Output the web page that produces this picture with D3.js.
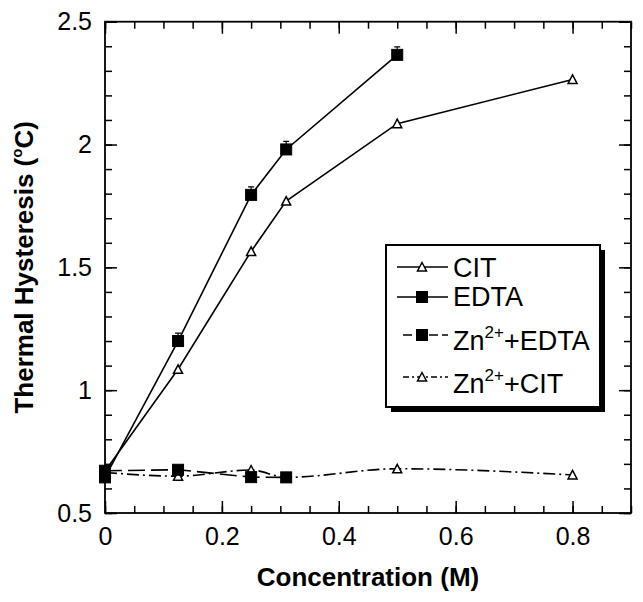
<!DOCTYPE html>
<html><head><meta charset="utf-8">
<script src="https://cdn.jsdelivr.net/npm/d3@7"></script>
<style>body{margin:0;background:#fff}svg{display:block}</style>
</head><body>
<svg id="c" width="643" height="602"></svg>
<script>
// ---- data ----
const citX = [0, 0.125, 0.25, 0.31, 0.5, 0.8];
const citY = [0.67, 1.085, 1.565, 1.77, 2.085, 2.265];
const edtaX = [0, 0.125, 0.25, 0.31, 0.5];
const edtaY = [0.645, 1.2, 1.795, 1.98, 2.365];
const znEdtaX = [0, 0.125, 0.25, 0.31];
const znEdtaY = [0.672, 0.676, 0.646, 0.645];
const znCitX = [0, 0.125, 0.25, 0.31, 0.5, 0.8];
const znCitY = [0.665, 0.65, 0.675, 0.645, 0.68, 0.655];
const xTickLabels = [0, 0.2, 0.4, 0.6, 0.8];
const yTickLabels = [0.5, 1, 1.5, 2, 2.5];

const FONT = "'Liberation Sans', Arial, Helvetica, sans-serif";
const svg = d3.select("#c");
const L = 105, R = 631, T = 21.7, B = 513;
const x = d3.scaleLinear().domain([0, 0.9]).range([L, R]);
const y = d3.scaleLinear().domain([0.5, 2.5]).range([B, T]);

const xMinor = d3.range(0, 0.9001, 0.05).map(v => +v.toFixed(2));
const yMinor = d3.range(0.5, 2.5001, 0.1).map(v => +v.toFixed(2));
const fmt = v => (v === 0 ? "0" : String(v));

function styleAxis(g) {
  g.select(".domain").remove();
  g.selectAll(".tick line").attr("stroke", "#000").attr("stroke-width", 1.5);
  g.selectAll("text").attr("font-family", FONT).attr("font-size", 25).attr("fill", "#000");
}
// bottom
svg.append("g").attr("transform", `translate(0,${B})`)
  .call(d3.axisBottom(x).tickValues(xMinor).tickSize(-7).tickSizeOuter(0).tickFormat("")).call(styleAxis);
svg.append("g").attr("transform", `translate(0,${B})`)
  .call(d3.axisBottom(x).tickValues(xTickLabels).tickSize(-12).tickSizeOuter(0).tickPadding(14).tickFormat(fmt)).call(styleAxis);
// top
svg.append("g").attr("transform", `translate(0,${T})`)
  .call(d3.axisTop(x).tickValues(xMinor).tickSize(-7).tickSizeOuter(0).tickFormat("")).call(styleAxis);
svg.append("g").attr("transform", `translate(0,${T})`)
  .call(d3.axisTop(x).tickValues(xTickLabels).tickSize(-12).tickSizeOuter(0).tickFormat("")).call(styleAxis);
// left
svg.append("g").attr("transform", `translate(${L},0)`)
  .call(d3.axisLeft(y).tickValues(yMinor).tickSize(-7).tickSizeOuter(0).tickFormat("")).call(styleAxis);
svg.append("g").attr("transform", `translate(${L},0)`)
  .call(d3.axisLeft(y).tickValues(yTickLabels).tickSize(-12).tickSizeOuter(0).tickPadding(13).tickFormat(fmt)).call(styleAxis);
// right
svg.append("g").attr("transform", `translate(${R},0)`)
  .call(d3.axisRight(y).tickValues(yMinor).tickSize(-7).tickSizeOuter(0).tickFormat("")).call(styleAxis);
svg.append("g").attr("transform", `translate(${R},0)`)
  .call(d3.axisRight(y).tickValues(yTickLabels).tickSize(-12).tickSizeOuter(0).tickFormat("")).call(styleAxis);

// frame
svg.append("rect").attr("x", L).attr("y", T).attr("width", R - L).attr("height", B - T)
  .attr("fill", "none").attr("stroke", "#000").attr("stroke-width", 1.8);

// titles
svg.append("text").attr("x", (L + R) / 2).attr("y", 586).attr("text-anchor", "middle")
  .attr("font-family", FONT).attr("font-size", 26).attr("font-weight", "bold").text("Concentration (M)");
const yt = svg.append("text").attr("transform", `translate(33,${(T + B) / 2}) rotate(-90)`)
  .attr("text-anchor", "middle").attr("font-family", FONT).attr("font-size", 26).attr("font-weight", "bold");
yt.append("tspan").text("Thermal Hysteresis (");
yt.append("tspan").attr("font-size", 15).attr("dy", -11).text("o");
yt.append("tspan").attr("dy", 11).text("C)");

// series
const series = [
  { name: "CIT", xs: citX, ys: citY, marker: "tri", dash: null, curve: d3.curveLinear },
  { name: "EDTA", xs: edtaX, ys: edtaY, marker: "sq", dash: null, curve: d3.curveLinear },
  { name: "ZnEDTA", xs: znEdtaX, ys: znEdtaY, marker: "sq", dash: "17,6", curve: d3.curveLinear },
  { name: "ZnCIT", xs: znCitX, ys: znCitY, marker: "tri", dash: "12,4,2,4", curve: d3.curveMonotoneX }
];
const plot = svg.append("g");
series.forEach(s => {
  const pts = s.xs.map((v, i) => [v, s.ys[i]]);
  plot.append("path").datum(pts)
    .attr("d", d3.line().x(d => x(d[0])).y(d => y(d[1])).curve(s.curve))
    .attr("fill", "none").attr("stroke", "#000").attr("stroke-width", 1.6)
    .attr("stroke-dasharray", s.dash);
});
function drawMarker(g, type, cx, cy) {
  if (type === "sq") {
    g.append("rect").attr("x", cx - 5.5).attr("y", cy - 5.5).attr("width", 11).attr("height", 11)
      .attr("fill", "#000").attr("stroke", "#000").attr("stroke-width", 1);
  } else {
    const h = 8, w = 9;
    g.append("path").attr("d", `M${cx},${cy - h / 2 - 0.5}L${cx + w / 2},${cy + h / 2}L${cx - w / 2},${cy + h / 2}Z`)
      .attr("fill", "#fff").attr("stroke", "#000").attr("stroke-width", 1.5);
  }
}
// triangles first, then squares on top
["tri", "sq"].forEach(t => {
  series.filter(s => s.marker === t).forEach(s => {
    s.xs.forEach((v, i) => drawMarker(plot, t, x(v), y(s.ys[i])));
  });
});
// small error bars on EDTA squares (caps on top)
edtaX.forEach((v, i) => {
  const cx = x(v), cy = y(edtaY[i]);
  plot.append("path").attr("d", `M${cx},${cy - 5}V${cy - 8}M${cx - 3},${cy - 8}H${cx + 3}`)
    .attr("stroke", "#000").attr("stroke-width", 1.2);
});

// legend
const lg = svg.append("g");
const LX = 386, LY = 245, LW = 214, LH = 162;
lg.append("rect").attr("x", LX + 5).attr("y", LY + 5).attr("width", LW).attr("height", LH).attr("fill", "#000");
lg.append("rect").attr("x", LX).attr("y", LY).attr("width", LW).attr("height", LH)
  .attr("fill", "#fff").attr("stroke", "#000").attr("stroke-width", 2);
const entries = [
  { s: series[0], ly: 267, ty: 277, label: ["CIT"] },
  { s: series[1], ly: 297, ty: 306, label: ["EDTA"] },
  { s: series[2], ly: 335, ty: 350, label: ["Zn", "2+", "+EDTA"] },
  { s: series[3], ly: 377, ty: 393, label: ["Zn", "2+", "+CIT"] }
];
entries.forEach(e => {
  const x1 = LX + 11, x2 = LX + 62, mx = LX + 36;
  lg.append("line").attr("x1", e.s.dash ? x1 + 6 : x1).attr("x2", x2).attr("y1", e.ly).attr("y2", e.ly)
    .attr("stroke", "#000").attr("stroke-width", 1.5)
    .attr("stroke-dasharray", e.s.dash ? (e.s.marker === "sq" ? "9,4" : "6,3,2,3") : null);
  drawMarker(lg, e.s.marker, mx, e.ly);
  const t = lg.append("text").attr("x", LX + 67).attr("y", e.ty)
    .attr("font-family", FONT).attr("font-size", 27).attr("fill", "#000");
  if (e.label.length === 1) t.text(e.label[0]);
  else {
    t.append("tspan").text(e.label[0]);
    t.append("tspan").attr("font-size", 17).attr("dy", -12).text(e.label[1]);
    t.append("tspan").attr("dy", 12).text(e.label[2]);
  }
});
</script>
</body></html>
